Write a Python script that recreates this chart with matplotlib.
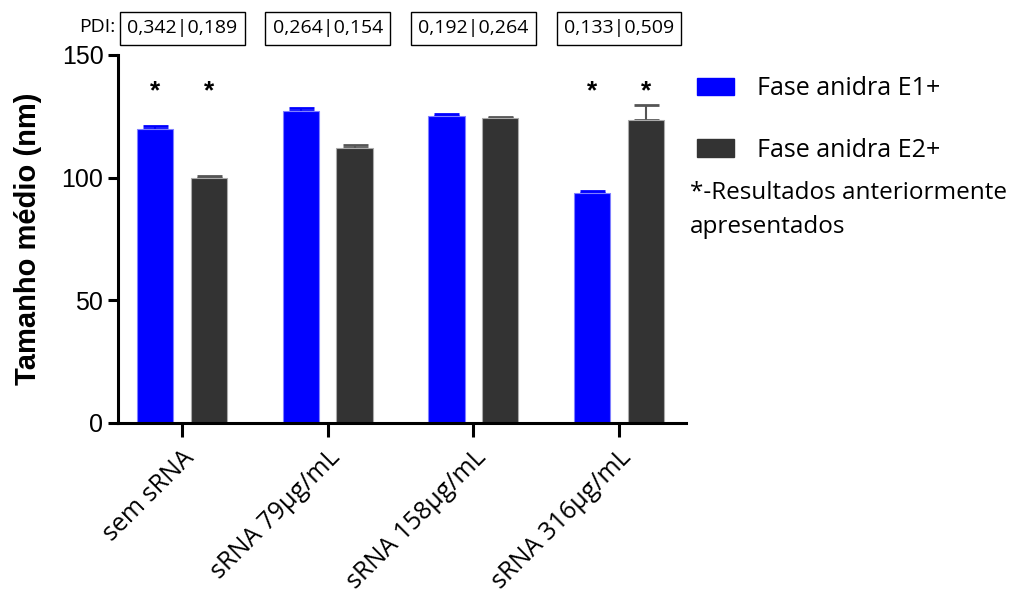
import matplotlib.pyplot as plt
import numpy as np
from matplotlib.patches import Patch

categories = ["sem sRNA", "sRNA 79µg/mL", "sRNA 158µg/mL", "sRNA 316µg/mL"]
e1_mean = [119.9, 127.3, 125.2, 93.8]
e1_err = [1.3, 1.2, 0.9, 0.8]
e2_mean = [99.8, 112.1, 124.1, 123.5]
e2_err = [1.0, 1.0, 0.6, 6.0]
e1_star = [True, False, False, True]
e2_star = [True, False, False, True]
pdi_labels = ["0,342|0,189", "0,264|0,154", "0,192|0,264", "0,133|0,509"]
series_names = ["Fase anidra E1+", "Fase anidra E2+"]

blue = "#0000ff"
dark = "#333333"
txt_font = ["Open Sans", "DejaVu Sans"]
num_font = ["Liberation Sans", "DejaVu Sans"]

fig = plt.figure(figsize=(10.17, 5.97), dpi=100)
ax = fig.add_axes([0.116, 0.2915, 0.5585, 0.6165])

x = np.arange(len(categories))
w = 0.25
off = 0.185

ax.bar(x - off, e1_mean, w, color=blue, edgecolor="#8080ff", linewidth=0.8, zorder=2)
ax.bar(x + off, e2_mean, w, color=dark, edgecolor="#aaaaaa", linewidth=0.8, zorder=2)
ax.errorbar(x - off, e1_mean, yerr=[np.zeros(4), e1_err], fmt="none",
            ecolor=blue, elinewidth=1.5, capsize=9, capthick=2, zorder=1)
ax.errorbar(x + off, e2_mean, yerr=[np.zeros(4), e2_err], fmt="none",
            ecolor="#555555", elinewidth=1.5, capsize=9, capthick=2, zorder=1)

for i in range(len(categories)):
    if e1_star[i]:
        ax.text(x[i] - off, 135, "*", ha="center", va="center", fontsize=19,
                fontweight="bold", family=num_font)
    if e2_star[i]:
        ax.text(x[i] + off, 135, "*", ha="center", va="center", fontsize=19,
                fontweight="bold", family=num_font)

ax.set_xlim(-0.44, 3.46)
ax.set_ylim(0, 150)
ax.set_yticks([0, 50, 100, 150])
ax.set_xticks(x)
ax.set_xticklabels(categories, rotation=45, ha="right", rotation_mode="anchor",
                   fontsize=18, family=txt_font)
for lab in ax.get_yticklabels():
    lab.set_family(num_font)
    lab.set_fontsize(18)
ax.set_ylabel("Tamanho médio (nm)", fontsize=21, fontweight="bold",
              family=num_font, labelpad=14)

for s in ["top", "right"]:
    ax.spines[s].set_visible(False)
for s in ["left", "bottom"]:
    ax.spines[s].set_linewidth(2.2)
ax.tick_params(axis="y", width=2.2, length=7, direction="out")
ax.tick_params(axis="x", width=2.2, length=10, direction="out", pad=6)

# PDI boxes above each group
tr = ax.get_xaxis_transform()
for i, lab in enumerate(pdi_labels):
    ax.text(x[i], 1.072, lab, transform=tr, ha="center", va="center", fontsize=14,
            family=txt_font, clip_on=False,
            bbox=dict(boxstyle="square,pad=0.38", fc="white", ec="black", lw=1))
fig.text(0.113, 0.955, "PDI:", ha="right", va="center", fontsize=14, family=txt_font)

handles = [Patch(color=blue), Patch(color=dark)]
fig.legend(handles, series_names, loc="upper left", bbox_to_anchor=(0.685, 0.872),
           frameon=False, prop={"family": txt_font, "size": 18},
           borderpad=0, borderaxespad=0,
           handlelength=1.5, handleheight=0.7, labelspacing=1.45, handletextpad=0.9)
fig.text(0.678, 0.697, "*-Resultados anteriormente\napresentados", ha="left",
         va="top", fontsize=17.5, family=txt_font, linespacing=1.55)

fig.savefig("out.png", dpi=100)
